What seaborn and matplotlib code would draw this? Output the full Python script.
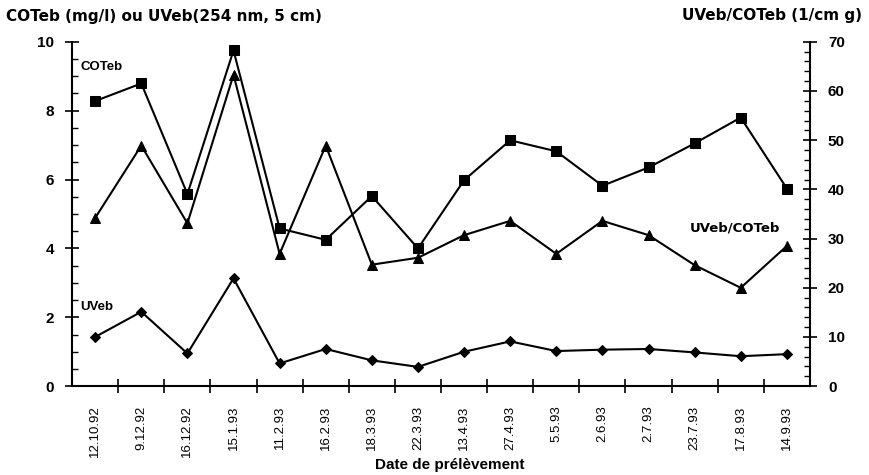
import numpy as np
import pandas as pd
import matplotlib
matplotlib.use("Agg")
import matplotlib.pyplot as plt
from matplotlib.ticker import MultipleLocator, FixedLocator
import seaborn as sns

dates = ["12.10.92", "9.12.92", "16.12.92", "15.1.93", "11.2.93", "16.2.93",
         "18.3.93", "22.3.93", "13.4.93", "27.4.93", "5.5.93", "2.6.93",
         "2.7.93", "23.7.93", "17.8.93", "14.9.93"]
coteb = [8.28, 8.79, 5.58, 9.75, 4.58, 4.25, 5.52, 4.0, 5.98, 7.14,
         6.82, 5.82, 6.35, 7.05, 7.8, 5.74]
uveb = [1.43, 2.16, 0.95, 3.13, 0.66, 1.08, 0.75, 0.56, 1.0, 1.3,
        1.02, 1.06, 1.08, 0.98, 0.87, 0.93]
ratio = [34.2, 48.9, 33.1, 63.3, 26.9, 48.9, 24.7, 26.1, 30.7, 33.6,
         26.9, 33.6, 30.7, 24.6, 20.0, 28.5]

sns.set_style("ticks")
plt.rcParams['font.family'] = ['Liberation Sans', 'DejaVu Sans']
plt.rcParams['text.color'] = 'black'
plt.rcParams['axes.labelcolor'] = 'black'
plt.rcParams['xtick.color'] = 'black'
plt.rcParams['ytick.color'] = 'black'
plt.rcParams['axes.edgecolor'] = 'black'

df = pd.DataFrame({"pos": np.arange(len(dates)), "date": dates,
                   "COTeb": coteb, "UVeb": uveb, "ratio": ratio})

fig = plt.figure(figsize=(8.69, 4.75), dpi=100)
ax = fig.add_axes([0.083, 0.187, 0.849, 0.725])
ax2 = ax.twinx()

sns.lineplot(data=df, x="pos", y="COTeb", ax=ax, color="black", lw=1.5,
             marker="s", markersize=6.5, markeredgecolor="black")
sns.lineplot(data=df, x="pos", y="UVeb", ax=ax, color="black", lw=1.5,
             marker="D", markersize=5, markeredgecolor="black")
sns.lineplot(data=df, x="pos", y="ratio", ax=ax2, color="black", lw=1.5,
             marker="^", markersize=6.5, markeredgecolor="black")

n = len(dates)
ax.set_xlim(-0.5, n - 0.5)
ax.set_ylim(0, 10)
ax2.set_ylim(0, 70)

ax.set_xticks(np.arange(n))
ax.set_xticklabels(dates, rotation=90, fontsize=9.5)
ax.xaxis.set_minor_locator(FixedLocator(np.arange(n - 1) + 0.5))
ax.tick_params(axis="x", which="major", length=0, pad=14)
ax.tick_params(axis="x", which="minor", direction="inout", length=10, width=1.2)

ax.yaxis.set_major_locator(MultipleLocator(2))
ax.yaxis.set_minor_locator(MultipleLocator(0.5))
ax.tick_params(axis="y", which="major", direction="inout", length=10, width=1.2,
               labelsize=11, pad=8)
ax.tick_params(axis="y", which="minor", direction="in", length=4, width=1)
for t in ax.get_yticklabels():
    t.set_fontweight("bold")

ax2.yaxis.set_major_locator(MultipleLocator(10))
ax2.yaxis.set_minor_locator(MultipleLocator(2))
ax2.tick_params(axis="y", which="major", direction="inout", length=10, width=1.2,
                labelsize=11, pad=8)
ax2.tick_params(axis="y", which="minor", direction="in", length=4, width=1)
for t in ax2.get_yticklabels():
    t.set_fontweight("bold")

ax.set_xlabel("")
ax.set_ylabel("")
ax2.set_ylabel("")
for s in ["top", "right"]:
    ax.spines[s].set_visible(False)
for s in ["top", "left", "bottom"]:
    ax2.spines[s].set_visible(False)
for sp in [ax.spines["left"], ax.spines["bottom"], ax2.spines["right"]]:
    sp.set_linewidth(1.5)

ax.text(-0.32, 9.27, "COTeb", fontsize=9.5, fontweight="bold", va="center", ha="left")
ax.text(-0.32, 2.3, "UVeb", fontsize=9.5, fontweight="bold", va="center", ha="left")
ax.text(12.9, 4.6, "UVeb/COTeb", fontsize=9.5, fontweight="bold", va="center", ha="left",
        family=["DejaVu Sans"])

fig.text(0.007, 0.966, "COTeb (mg/l) ou UVeb(254 nm, 5 cm)", fontsize=11,
         fontweight="bold", ha="left", va="center", family=["DejaVu Sans"])
fig.text(0.992, 0.968, "UVeb/COTeb (1/cm g)", fontsize=11,
         fontweight="bold", ha="right", va="center", family=["DejaVu Sans"])
fig.text(0.518, 0.021, "Date de prélèvement", fontsize=11,
         fontweight="bold", ha="center", va="center")

fig.savefig("out.png", dpi=100)
